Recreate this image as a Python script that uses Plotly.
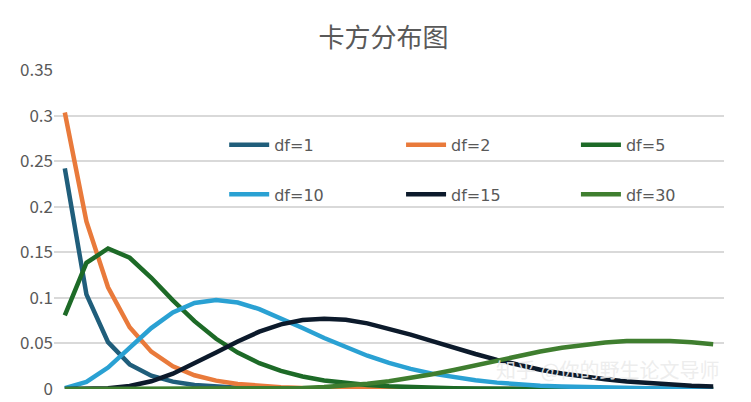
import plotly.graph_objects as go

x = list(range(1, 32))
df1 = [0.2420,0.1038,0.0514,0.0270,0.0146,0.0081,0.0045,0.0026,0.0015,0.00085,0.0005,0.0003,0.0002,0.0001,0.0001]+[0]*16
df2 = [0.3033,0.1839,0.1116,0.0677,0.0410,0.0249,0.0151,0.0092,0.0056,0.0034,0.0020,0.0012,0.0008,0.0005,0.0003,0.0002,0.0001]+[0]*14
df5 = [0.0807,0.1384,0.1542,0.1440,0.1220,0.0973,0.0744,0.0551,0.0399,0.0283,0.0198,0.0137,0.0094,0.0064,0.0043,0.0029,0.0019,0.0012,0.0008,0.0005,0.0003,0.0002,0.0001]+[0]*8
df10 = [0.0008,0.0077,0.0235,0.0451,0.0668,0.0840,0.0944,0.0977,0.0949,0.0877,0.0779,0.0670,0.0559,0.0456,0.0365,0.0286,0.0221,0.0169,0.0127,0.0095,0.0070,0.0051,0.0037,0.0027,0.0019,0.0014,0.0010,0.0007,0.0005,0.0003,0.0002]
df15 = [0.0000,0.0001,0.0008,0.0033,0.0085,0.0168,0.0278,0.0401,0.0522,0.0629,0.0709,0.0757,0.0772,0.0759,0.0720,0.0664,0.0596,0.0526,0.0453,0.0384,0.0320,0.0262,0.0212,0.0170,0.0135,0.0106,0.0082,0.0063,0.0048,0.0036,0.0027]
df30 = [0,0,0,0,0,0,0,0.00001,0.00009,0.00024,0.00054,0.00112,0.00207,0.00355,0.00566,0.00847,0.0120,0.0162,0.0209,0.0260,0.0313,0.0364,0.0411,0.0453,0.0486,0.0510,0.0526,0.0530,0.0526,0.0512,0.0492]

names = ["df=1","df=2","df=5","df=10","df=15","df=30"]
series = [df1, df2, df5, df10, df15, df30]
colors = ["#205E7B","#E97A3B","#1D6A27","#2AA1D3","#0C1A2B","#3F7E2F"]
leg_x = [0.254, 0.518, 0.779]
leg_y = [0.765, 0.61]

fig = go.Figure()
legends = {}
for i, (n, s, c) in enumerate(zip(names, series, colors)):
    key = "legend" if i == 0 else f"legend{i+1}"
    fig.add_trace(go.Scatter(x=x, y=s, name=n, mode="lines", legend=key, showlegend=True,
                             line=dict(color=c, width=4.5)))
    legends[key] = dict(x=leg_x[i % 3], y=leg_y[i // 3], xanchor="left", yanchor="middle",
                        bgcolor="rgba(0,0,0,0)", itemwidth=40,
                        font=dict(size=16, color="#595959", family="DejaVu Sans"))

fig.update_layout(
    width=751, height=402, showlegend=True,
    margin=dict(l=46, r=35, t=62, b=21, autoexpand=False),
    paper_bgcolor="white", plot_bgcolor="white",
    title=dict(text="卡方分布图", x=0.5, xanchor="center", y=0.925, yanchor="middle",
               font=dict(family="Noto Sans CJK SC", size=26, color="#595959")),
    font=dict(family="Noto Sans CJK SC", color="#595959"),
    xaxis=dict(range=[0.5, 31.5], showticklabels=False, showgrid=False, zeroline=False,
               showline=False, ticks=""),
    yaxis=dict(range=[0, 0.35], automargin=False,
               tickvals=[0,0.05,0.1,0.15,0.2,0.25,0.3,0.35],
               ticktext=["0","0.05","0.1","0.15","0.2","0.25","0.3","0.35"],
               showgrid=True, gridcolor="#D9D9D9", gridwidth=2, zeroline=False,
               tickfont=dict(size=17, color="#595959", family="Noto Sans CJK SC"), ticks=""),
    annotations=[dict(text="知乎 @你的野生论文导师", xref="paper", yref="paper", x=0.995, y=0.06,
                      xanchor="right", yanchor="middle", showarrow=False,
                      font=dict(size=20, color="rgba(235,235,235,0.9)", family="Noto Sans CJK SC"))],
    **legends,
)
fig.write_html("out.html")
